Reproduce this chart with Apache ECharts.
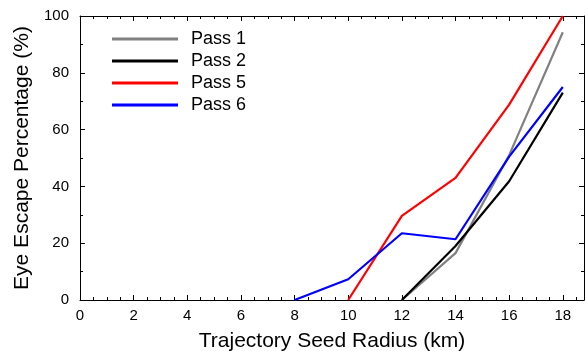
<!DOCTYPE html>
<html><head><meta charset="utf-8">
<script src="https://cdn.jsdelivr.net/npm/echarts@6/dist/echarts.min.js"></script>
<style>html,body{margin:0;padding:0;background:#fff}#c{width:585px;height:351px}</style>
</head><body><div id="c"></div>
<script>
const radii = [8, 10, 12, 14, 16, 18];
const pass1 = [null, null, 0, 16.5, 51, 94.3];
const pass2 = [null, null, 0, 19, 41.8, 73];
const pass5 = [null, 0, 29.6, 43, 68.8, 100];
const pass6 = [0, 7.3, 23.5, 21.4, 50.5, 75];
const seriesNames = ['Pass 1', 'Pass 2', 'Pass 5', 'Pass 6'];
const seriesColors = ['#808080', '#000000', '#ff0000', '#0000ff'];
const xTicks = [0, 2, 4, 6, 8, 10, 12, 14, 16, 18];
const yTicks = [0, 20, 40, 60, 80, 100];

const allData = [pass1, pass2, pass5, pass6];
const font = 'Arial, "Liberation Sans", sans-serif';
const XMAX = 18.79;

const xMinor = [];
for (let v = 0.5; v < XMAX; v += 0.5) if (v % 2 !== 0) xMinor.push(v);
const yMinor = [10, 30, 50, 70, 90];

function pairs(arr){ return radii.map((r,i)=> [r, arr[i]]); }

const chart = echarts.init(document.getElementById('c'));
const lineBlack = {color:'#000', width:1};

function xAx(g, pos, ticks, len, showLine, labels){
  return {
    gridIndex:g, type:'value', min:0, max:XMAX, interval:2, position:pos, offset:0,
    axisLine:{show:showLine, onZero:false, lineStyle:lineBlack},
    axisTick:{show:true, inside:true, length:len, customValues:ticks, lineStyle:lineBlack},
    axisLabel: labels ? {customValues:xTicks, fontFamily:font, fontSize:15, color:'#000', margin:8} : {show:false},
    splitLine:{show:false}
  };
}
function yAx(g, pos, ticks, len, showLine, labels){
  return {
    gridIndex:g, type:'value', min:0, max:100, interval:20, position:pos, offset:0,
    axisLine:{show:showLine, onZero:false, lineStyle:lineBlack},
    axisTick:{show:true, inside:true, length:len, customValues:ticks, lineStyle:lineBlack},
    axisLabel: labels ? {customValues:yTicks, fontFamily:font, fontSize:15, color:'#000', margin:11} : {show:false},
    splitLine:{show:false}
  };
}
const xMain = xAx(0, 'bottom', xTicks, 5, true, true);
xMain.name = 'Trajectory Seed Radius (km)';
xMain.nameLocation = 'middle'; xMain.nameGap = 31;
xMain.nameTextStyle = {fontFamily:font, fontSize:21, color:'#000'};
const yMain = yAx(0, 'left', yTicks, 5, true, true);
yMain.name = 'Eye Escape Percentage (%)';
yMain.nameLocation = 'middle'; yMain.nameGap = 47; yMain.nameRotate = 90;
yMain.nameTextStyle = {fontFamily:font, fontSize:21, color:'#000'};

const gridBox = {left:80, right:1, top:16, bottom:51, containLabel:false, outerBoundsMode:'none'};
chart.setOption({
  animation:false,
  grid:[{...gridBox}, {...gridBox}],
  legend:{
    orient:'vertical', left:107, top:25, itemWidth:66, itemHeight:3, itemGap:4,
    icon:'rect',
    textStyle:{fontFamily:font, fontSize:18, color:'#000', lineHeight:18, padding:[0,0,0,8]},
    data: seriesNames
  },
  xAxis:[xMain, xAx(0, 'top', xTicks, 5, true, false),
         xAx(1, 'bottom', xMinor, 3, false, false), xAx(1, 'top', xMinor, 3, false, false)],
  yAxis:[yMain, yAx(0, 'right', yTicks, 5, true, false),
         yAx(1, 'left', yMinor, 3, false, false), yAx(1, 'right', yMinor, 3, false, false)],
  series: allData.map((d,i)=>({
    name: seriesNames[i], type:'line', xAxisIndex:0, yAxisIndex:0,
    data: pairs(d), showSymbol:false, symbol:'none', connectNulls:false,
    lineStyle:{color:seriesColors[i], width:2.2}, itemStyle:{color:seriesColors[i]},
    clip:false
  }))
});
</script></body></html>
